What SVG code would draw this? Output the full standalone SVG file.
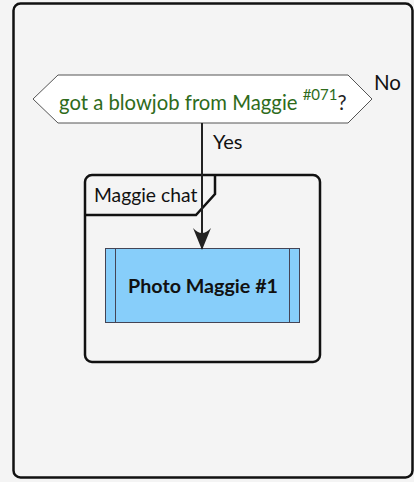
<svg xmlns="http://www.w3.org/2000/svg" width="414" height="482" viewBox="0 0 414 482">
<style>
  .t { font-family: Lato, "Open Sans", "Liberation Sans", sans-serif; }
  .frame { fill: #f4f4f4; stroke: #111; stroke-width: 2.5; }
  .edge { fill: none; stroke: #222; stroke-width: 2; }
</style>
<defs>
  <marker id="arr" markerWidth="22" markerHeight="18" viewBox="0 0 22 18" refX="21" refY="9" orient="auto" markerUnits="userSpaceOnUse">
    <path d="M22,9 L0,0 Q10,9 0,18 Z" fill="#222"/>
  </marker>
</defs>
<rect x="0" y="0" width="414" height="482" fill="#f4f4f4"/>
<g id="frame">
  <rect class="frame" x="13.5" y="3.5" width="399" height="474" rx="7"/>
</g>
<g id="decision">
  <polygon points="33,99 58,75 348,75 372,99 348,123 58,123" fill="#fff" stroke="#555" stroke-width="1"/>
  <text class="t" x="59" y="110" font-size="20.3" fill="#2e6b1b">got a blowjob from Maggie <tspan font-size="15" dy="-10">#071</tspan><tspan dy="10" fill="#222">?</tspan></text>
  <text class="t" x="374" y="90" font-size="20.5" fill="#111">No</text>
</g>
<g id="group">
  <rect x="85" y="175" width="235" height="187" rx="7" fill="none" stroke="#111" stroke-width="2.5"/>
  <path d="M85,215 L196,215 L215,194 L215,175" fill="none" stroke="#111" stroke-width="2.5"/>
  <text class="t" x="94" y="202" font-size="19.3" fill="#111">Maggie chat</text>
</g>
<g id="process">
  <rect x="105.5" y="248.5" width="194" height="74" fill="#87cefa" stroke="#445" stroke-width="1"/>
  <line x1="115.5" y1="248.5" x2="115.5" y2="322.5" stroke="#445" stroke-width="1"/>
  <line x1="289.5" y1="248.5" x2="289.5" y2="322.5" stroke="#445" stroke-width="1"/>
  <text class="t" x="203" y="293" font-size="19.7" font-weight="bold" fill="#111" text-anchor="middle">Photo Maggie #1</text>
</g>
<g id="connectors">
  <line class="edge" x1="202" y1="123" x2="202" y2="249" marker-end="url(#arr)"/>
  <text class="t" x="213" y="149" font-size="20" fill="#111">Yes</text>
</g>
</svg>
